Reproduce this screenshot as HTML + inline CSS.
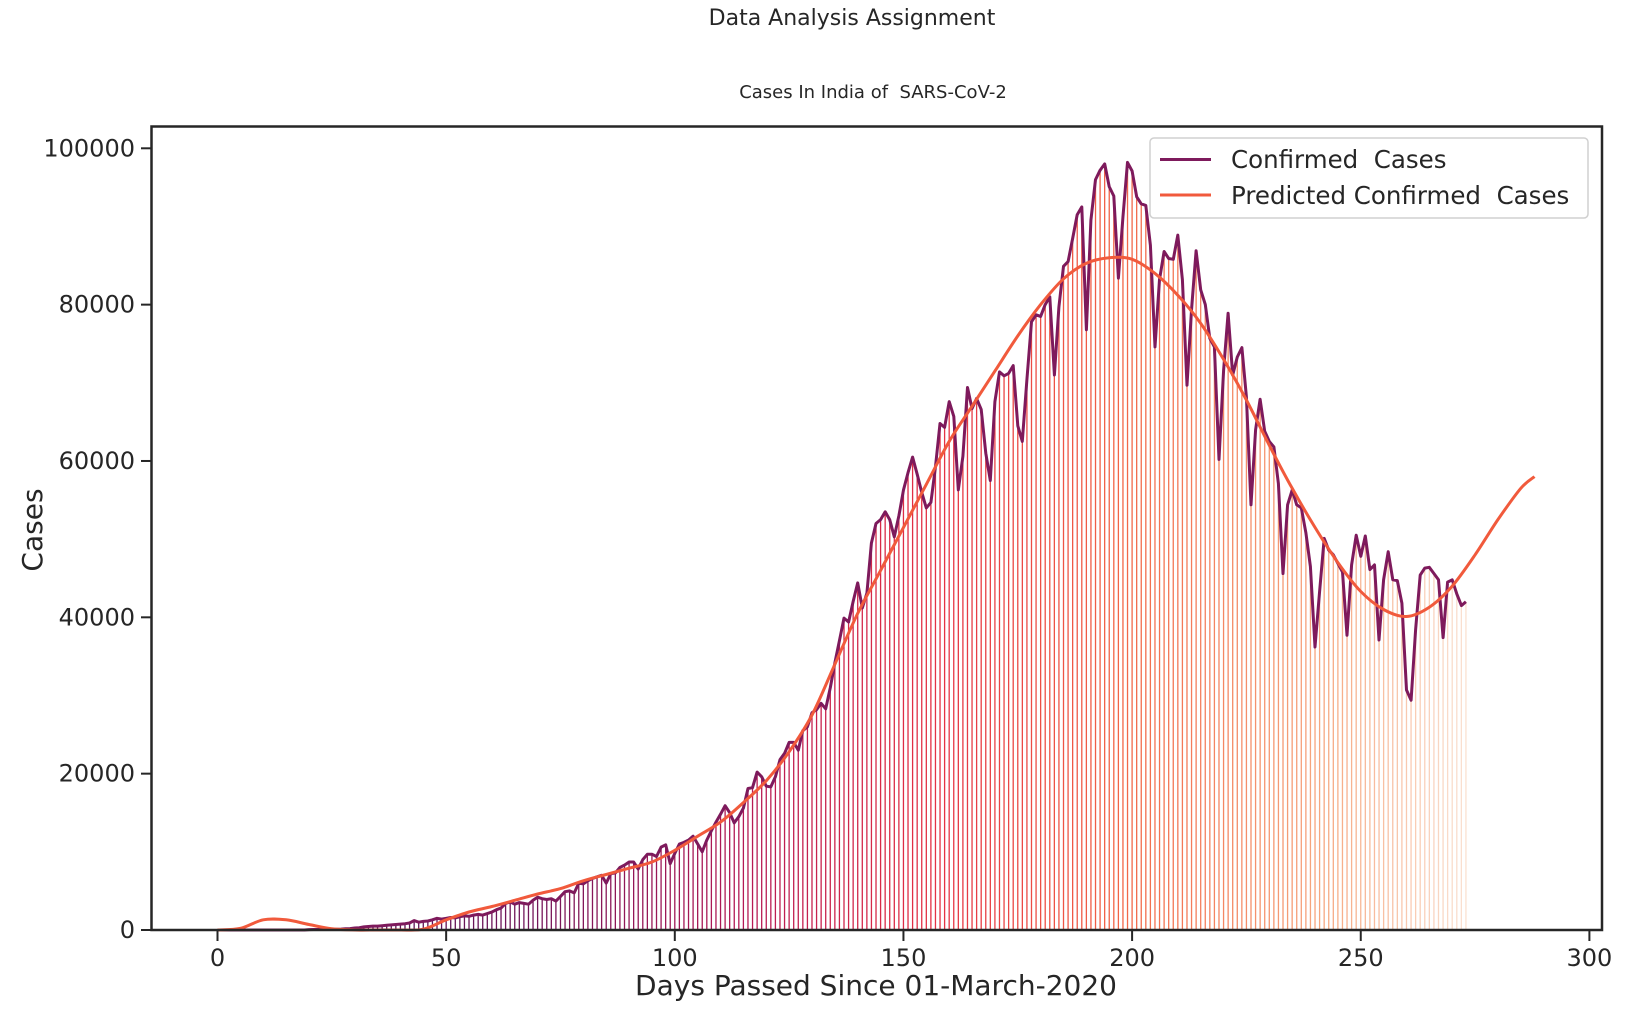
<!DOCTYPE html>
<html><head><meta charset="utf-8"><style>
body{margin:0;background:#fff;}
svg{display:block;font-family:"DejaVu Sans","Liberation Sans",sans-serif;}
text{white-space:pre;}
</style></head><body>
<svg id="chart" width="1626" height="1009" viewBox="0 0 1626 1009" xmlns="http://www.w3.org/2000/svg" xml:space="preserve">
<text x="852" y="25" font-size="22" text-anchor="middle" fill="#262626">Data Analysis Assignment</text>
<text x="873" y="98" font-size="18" text-anchor="middle" fill="#262626">Cases In India of  SARS-CoV-2</text>
<g id="bars"></g>
<g id="lines"></g>
<rect x="151.5" y="126.5" width="1450.5" height="803.5" fill="none" stroke="#262626" stroke-width="2.5"/>
<g id="axes"></g>
<text x="876" y="995" font-size="28" text-anchor="middle" fill="#262626">Days Passed Since 01-March-2020</text>
<text transform="translate(42,530) rotate(-90)" font-size="28" text-anchor="middle" fill="#262626">Cases</text>
<g>
<rect x="1150" y="138" width="438" height="80" rx="4" fill="#fff" fill-opacity="0.85" stroke="#d0d0d0" stroke-width="1.5"/>
<line x1="1160" y1="159.5" x2="1211" y2="159.5" stroke="#7e1a5c" stroke-width="3"/>
<text x="1231" y="168" font-size="24.5" fill="#262626">Confirmed  Cases</text>
<line x1="1160" y1="195" x2="1211" y2="195" stroke="#f15a3c" stroke-width="3"/>
<text x="1231" y="204" font-size="24.5" fill="#262626">Predicted Confirmed  Cases</text>
</g>
</svg>
<script>
const confirmed = [0,0,0,0,0,0,0,0,0,0,0,0,0,0,0,0,0,0,0,0,
50,60,70,80,80,90,100,120,150,180,
250,300,400,450,500,500,550,600,650,700,
750,800,900,1200,1000,1100,1150,1300,1500,1400,
1500,1600,1550,1700,1800,1750,1900,2000,1900,2100,
2300,2600,2800,3400,3600,3300,3500,3400,3300,3800,
4200,4000,3900,4000,3700,4300,4900,5000,4750,6000,
5900,6300,6600,6800,7000,6000,7200,7300,8000,8300,
8700,8700,7800,9000,9700,9700,9400,10600,10900,8500,
9800,11000,11200,11500,12000,11000,10000,11500,12700,13800,
14800,15900,15000,13700,14500,15600,18100,18200,20200,19600,
18400,18300,19600,21800,22600,24000,24000,23000,25500,26000,
27800,28200,29000,28300,31000,34200,37000,39900,39400,42000,
44400,41200,43100,49500,52000,52500,53500,52500,50300,53000,
56300,58500,60500,58300,56000,54000,54700,59300,64800,64300,
67600,65700,56300,60600,69400,66700,68000,66600,61000,57500,
67600,71400,70900,71200,72200,64500,62500,70400,77800,78700,
78500,80000,81000,71000,79700,84900,85500,88500,91500,92500,
76800,90800,96000,97200,98000,95100,93900,83400,91300,98200,
97100,93800,92900,92700,87600,74600,83200,86800,85900,85800,
88900,83200,69700,79300,86900,81900,80000,75700,74600,60200,
71600,78900,71000,73300,74500,68200,54400,64000,67900,63800,
62500,61800,57100,45600,54400,56300,54400,54000,50800,46500,
36200,43300,50100,48600,48000,46900,45800,37700,46700,50500,
47800,50400,46100,46700,37100,44800,48400,44800,44700,41800,
30700,29400,38400,45400,46300,46400,45600,44800,37400,44500,
44800,43000,41500,42000];
const predDays = [0,5,10,15,20,25,30,35,40,45,50,55,60,65,70,75,80,85,90,95,100,105,110,115,120,125,130,135,140,145,150,155,160,165,170,175,180,185,190,195,200,205,210,215,220,225,230,235,240,245,250,255,260,265,270,275,280,285,288];
const predVals = [0,200,1300,1300,700,150,0,0,0,100,1300,2300,3000,3800,4600,5300,6300,7100,7900,8700,10200,12000,13800,16300,19100,22800,27500,34000,40500,46000,51500,57000,62500,67000,71500,76000,80000,83300,85300,86000,85800,84000,81200,77600,73000,67800,62000,56500,51500,47000,43300,41000,40100,41300,44000,48000,52500,56500,58000];
const xTicks = [0,50,100,150,200,250,300];
const yTicks = [0,20000,40000,60000,80000,100000];

const NS = "http://www.w3.org/2000/svg";
const X = d => 217.5 + 4.573 * d;
const Y = v => 930 - v * 0.007817;

const stops = [[0,[60,15,78]],[0.25,[115,22,90]],[0.42,[180,25,85]],[0.57,[228,48,68]],[0.72,[242,100,70]],[0.88,[246,165,125]],[1,[250,225,210]]];
function col(t){
  for(let i=1;i<stops.length;i++){
    if(t<=stops[i][0]){
      const a=stops[i-1],b=stops[i],f=(t-a[0])/(b[0]-a[0]);
      const c=a[1].map((v,k)=>Math.round(v+(b[1][k]-v)*f));
      return `rgb(${c[0]},${c[1]},${c[2]})`;
    }
  }
  return 'rgb(250,225,210)';
}
const bars = document.getElementById('bars');
confirmed.forEach((v,i)=>{
  const l=document.createElementNS(NS,'line');
  
  
  l.setAttribute('x1',X(i));l.setAttribute('x2',X(i));
  l.setAttribute('y1',Y(0));l.setAttribute('y2',Y(v));
  l.setAttribute('stroke',col(i/(confirmed.length-1)));
  l.setAttribute('stroke-width','1.3');
  bars.appendChild(l);
});
const lines = document.getElementById('lines');
let d='';
confirmed.forEach((v,i)=>{d+=(i?'L':'M')+X(i).toFixed(1)+','+Y(v).toFixed(1);});
const cl=document.createElementNS(NS,'path');


cl.setAttribute('d',d);cl.setAttribute('fill','none');cl.setAttribute('stroke','#7e1a5c');
cl.setAttribute('stroke-width','3');cl.setAttribute('stroke-linejoin','round');
lines.appendChild(cl);
const pts=predDays.map((dd,i)=>[X(dd),Y(predVals[i])]);
let p='M'+pts[0][0]+','+pts[0][1];
for(let i=0;i<pts.length-1;i++){
  const p0=pts[Math.max(0,i-1)],p1=pts[i],p2=pts[i+1],p3=pts[Math.min(pts.length-1,i+2)];
  const c1=[p1[0]+(p2[0]-p0[0])/6,p1[1]+(p2[1]-p0[1])/6];
  const c2=[p2[0]-(p3[0]-p1[0])/6,p2[1]-(p3[1]-p1[1])/6];
  p+=`C${c1[0].toFixed(1)},${c1[1].toFixed(1)} ${c2[0].toFixed(1)},${c2[1].toFixed(1)} ${p2[0].toFixed(1)},${p2[1].toFixed(1)}`;
}
const pl=document.createElementNS(NS,'path');


pl.setAttribute('d',p);pl.setAttribute('fill','none');pl.setAttribute('stroke','#f15a3c');
pl.setAttribute('stroke-width','3');
lines.appendChild(pl);

const axes=document.getElementById('axes');
xTicks.forEach(t=>{
  const l=document.createElementNS(NS,'line');
  
  
  l.setAttribute('x1',X(t));l.setAttribute('x2',X(t));l.setAttribute('y1',931);l.setAttribute('y2',941);
  l.setAttribute('stroke','#262626');l.setAttribute('stroke-width','2');
  axes.appendChild(l);
  const tx=document.createElementNS(NS,'text');
  
  
  tx.setAttribute('x',X(t));tx.setAttribute('y',966);tx.setAttribute('font-size','24');
  tx.setAttribute('text-anchor','middle');tx.setAttribute('fill','#262626');
  tx.textContent=t;axes.appendChild(tx);
});
yTicks.forEach(t=>{
  const l=document.createElementNS(NS,'line');
  
  
  l.setAttribute('x1',141);l.setAttribute('x2',151);l.setAttribute('y1',Y(t));l.setAttribute('y2',Y(t));
  l.setAttribute('stroke','#262626');l.setAttribute('stroke-width','2');
  axes.appendChild(l);
  const tx=document.createElementNS(NS,'text');
  
  
  tx.setAttribute('x',135);tx.setAttribute('y',Y(t)+8);tx.setAttribute('font-size','24');
  tx.setAttribute('text-anchor','end');tx.setAttribute('fill','#262626');
  tx.textContent=t;axes.appendChild(tx);
});
</script>
</body></html>
